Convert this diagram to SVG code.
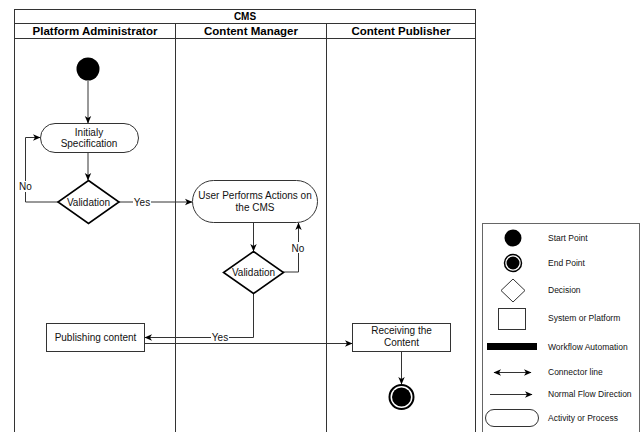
<svg xmlns="http://www.w3.org/2000/svg" width="644" height="432" viewBox="0 0 644 432">
  <style>
    .frame { fill: none; stroke: #333; stroke-width: 1; }
    .hdr { font-family: "Liberation Sans", Arial, sans-serif; font-weight: bold; font-size: 11.5px; fill: #000; text-anchor: middle; }
    .cms { font-family: "Liberation Sans", Arial, sans-serif; font-weight: bold; font-size: 10px; fill: #000; text-anchor: middle; }
    .lbl { font-family: "Liberation Sans", Arial, sans-serif; font-size: 10px; fill: #111; text-anchor: middle; }
    .leg { font-family: "Liberation Sans", Arial, sans-serif; font-size: 8.5px; fill: #111; }
    .shape { fill: #fff; stroke: #333; stroke-width: 1; }
    .dia { fill: #fff; stroke: #000; stroke-width: 1.6; }
    .edge { fill: none; stroke: #333; stroke-width: 1; }
    .bg { fill: #fff; }
  </style>
  <defs>
    <marker id="arrow" viewBox="0 0 8 8" refX="7" refY="4" markerWidth="8" markerHeight="8" markerUnits="userSpaceOnUse" orient="auto-start-reverse">
      <path d="M0,0.8 L7.5,4 L0,7.2 L2,4 Z" fill="#000"/>
    </marker>
  </defs>

  <rect width="644" height="432" fill="#fff"/>

  <!-- swimlane pool -->
  <g id="pool">
    <rect class="frame" x="14.5" y="9.5" width="461" height="440"/>
    <line class="frame" x1="14.5" y1="23.5" x2="475.5" y2="23.5"/>
    <line class="frame" x1="14.5" y1="38.5" x2="475.5" y2="38.5"/>
    <line class="frame" x1="175.5" y1="23.5" x2="175.5" y2="432"/>
    <line class="frame" x1="326.5" y1="23.5" x2="326.5" y2="432"/>
    <text class="cms" x="245" y="20">CMS</text>
    <text class="hdr" x="95" y="35">Platform Administrator</text>
    <text class="hdr" x="251" y="35">Content Manager</text>
    <text class="hdr" x="401" y="35">Content Publisher</text>
  </g>

  <!-- connectors -->
  <g id="connectors">
    <line class="edge" x1="88" y1="81" x2="88" y2="123" marker-end="url(#arrow)"/>
    <line class="edge" x1="88" y1="152" x2="88" y2="180" marker-end="url(#arrow)"/>
    <polyline class="edge" points="58,202 25.5,202 25.5,137.5 40,137.5" marker-end="url(#arrow)"/>
    <line class="edge" x1="119" y1="202" x2="192" y2="202" marker-end="url(#arrow)"/>
    <line class="edge" x1="253.5" y1="223" x2="253.5" y2="251" marker-end="url(#arrow)"/>
    <polyline class="edge" points="283,272 298.5,272 298.5,223" marker-end="url(#arrow)"/>
    <polyline class="edge" points="253.5,293 253.5,337.5 145,337.5" marker-end="url(#arrow)"/>
    <line class="edge" x1="144" y1="343.5" x2="352" y2="343.5" marker-end="url(#arrow)"/>
    <line class="edge" x1="401.5" y1="351" x2="401.5" y2="384" marker-end="url(#arrow)"/>
    <!-- edge labels -->
    <rect class="bg" x="18" y="181" width="15" height="11"/>
    <text class="lbl" x="25.5" y="190">No</text>
    <rect class="bg" x="133" y="196" width="18" height="11"/>
    <text class="lbl" x="142" y="205.5">Yes</text>
    <rect class="bg" x="290" y="242" width="15" height="11"/>
    <text class="lbl" x="298" y="251.5">No</text>
    <rect class="bg" x="211" y="332" width="18" height="11"/>
    <text class="lbl" x="220" y="341">Yes</text>
  </g>

  <g id="start">
    <circle cx="88" cy="69" r="11.5" fill="#000"/>
  </g>

  <g id="initial-spec">
    <rect class="shape" x="40.5" y="123.5" width="98" height="29" rx="14.5"/>
    <text class="lbl" x="89" y="136">Initialy</text>
    <text class="lbl" x="89" y="147">Specification</text>
  </g>

  <g id="validation-admin">
    <polygon class="dia" points="88.5,180.5 119,202 88.5,223.5 58,202"/>
    <text class="lbl" x="88.5" y="205.5">Validation</text>
  </g>

  <g id="user-actions">
    <rect class="shape" x="192.5" y="180.5" width="125" height="42" rx="21"/>
    <text class="lbl" x="255" y="199">User Performs Actions on</text>
    <text class="lbl" x="255" y="211">the CMS</text>
  </g>

  <g id="validation-manager">
    <polygon class="dia" points="253.5,251.5 283.5,272.5 253.5,293.5 223.5,272.5"/>
    <text class="lbl" x="253.5" y="276">Validation</text>
  </g>

  <g id="publishing">
    <rect class="shape" x="46.5" y="323.5" width="98" height="28"/>
    <text class="lbl" x="95.5" y="341">Publishing content</text>
  </g>

  <g id="receiving">
    <rect class="shape" x="352.5" y="323.5" width="98" height="28"/>
    <text class="lbl" x="401.5" y="334">Receiving the</text>
    <text class="lbl" x="401.5" y="346">Content</text>
  </g>

  <g id="end">
    <circle cx="401.5" cy="397" r="12" fill="#fff" stroke="#000" stroke-width="2"/>
    <circle cx="401.5" cy="397" r="9.5" fill="#000"/>
  </g>

  <!-- legend -->
  <g id="legend">
    <rect x="482.5" y="223.5" width="157" height="220" fill="#fff" stroke="#666" stroke-width="1"/>
    <circle cx="513" cy="238" r="8.5" fill="#000"/>
    <text class="leg" x="548" y="241">Start Point</text>
    <circle cx="513" cy="263" r="8.5" fill="#fff" stroke="#000" stroke-width="1.5"/>
    <circle cx="513" cy="263" r="6.5" fill="#000"/>
    <text class="leg" x="548" y="266">End Point</text>
    <polygon points="513,279 525,290.5 513,302 501,290.5" fill="#fff" stroke="#333" stroke-width="1"/>
    <text class="leg" x="548" y="293">Decision</text>
    <rect x="498.5" y="308.5" width="27" height="21" fill="#fff" stroke="#333" stroke-width="1"/>
    <text class="leg" x="548" y="321">System or Platform</text>
    <rect x="487" y="343" width="50" height="7" fill="#000"/>
    <text class="leg" x="548" y="350">Workflow Automation</text>
    <line x1="494" y1="372.5" x2="531" y2="372.5" stroke="#333" stroke-width="1" marker-start="url(#arrow)" marker-end="url(#arrow)"/>
    <text class="leg" x="548" y="375">Connector line</text>
    <line x1="490" y1="394.5" x2="532" y2="394.5" stroke="#333" stroke-width="1" marker-end="url(#arrow)"/>
    <text class="leg" x="548" y="397">Normal Flow Direction</text>
    <rect x="485.5" y="409.5" width="53" height="17" rx="8.5" fill="#fff" stroke="#333" stroke-width="1"/>
    <text class="leg" x="548" y="421">Activity or Process</text>
  </g>
</svg>
